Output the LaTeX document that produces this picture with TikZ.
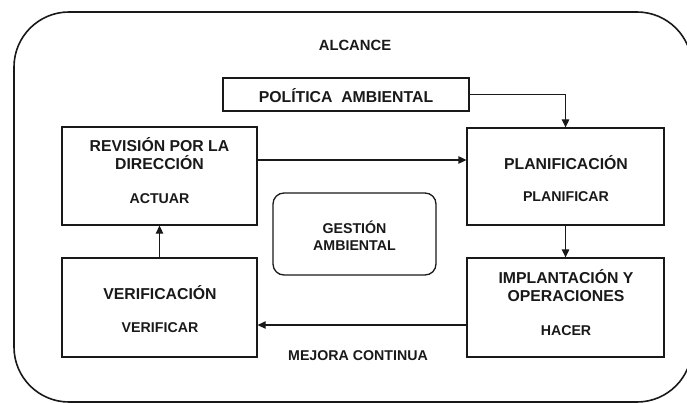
\documentclass[tikz,border=0pt]{standalone}
\usepackage{fontspec}
\setmainfont{Liberation Sans}
\usetikzlibrary{arrows.meta}
\begin{document}
\begin{tikzpicture}[x=1pt,y=-1pt,
  boxst/.style={draw=black!90, line width=1.3pt, inner sep=0pt, minimum width=#1},
  big/.style={font=\bfseries\fontsize{15.8}{18}\selectfont, align=center, text=black!90, inner sep=0pt},
  small/.style={font=\bfseries\fontsize{14.2}{16.5}\selectfont, align=center, text=black!90, inner sep=0pt},
  conn/.style={draw=black!90, line width=1.3pt, -{Triangle[length=8pt,width=7.5pt]}}]
\useasboundingbox (0,0) rectangle (687,403);
\begin{scope}
\clip (0,0) rectangle (687,403);
\draw[line width=1.6pt, black!90, rounded corners=55pt] (14,12) rectangle (692,402);
\end{scope}
% boxes
\node[boxst=246pt, minimum height=33pt] (pol) at (346,94.5) {};
\node[boxst=195pt, minimum height=98pt] (rev) at (159.5,176) {};
\node[boxst=197pt, minimum height=97pt] (plan) at (565.5,176.5) {};
\node[boxst=197pt, minimum height=99pt] (impl) at (565.5,307.5) {};
\node[boxst=195pt, minimum height=99pt] (ver) at (159.5,307.5) {};
\node[boxst=163pt, minimum height=82pt, rounded corners=11pt] (gest) at (354.5,234) {};
% texts
\node[small, font=\bfseries\fontsize{14.8}{16}\selectfont] (alc) at (355,45) {ALCANCE};
\node[big] (polt) at (346,96) {POLÍTICA\ \ AMBIENTAL};
\node[big] (revt) at (159.5,154) {REVISIÓN POR LA\\DIRECCIÓN};
\node[small] (revs) at (159.5,199) {ACTUAR};
\node[big] (plant) at (566,163) {PLANIFICACIÓN};
\node[small] (plans) at (566,197) {PLANIFICAR};
\node[big] (implt) at (566,286) {IMPLANTACIÓN Y\\OPERACIONES};
\node[small] (impls) at (566,331) {HACER};
\node[big] (vert) at (160,293) {VERIFICACIÓN};
\node[small] (vers) at (160,328) {VERIFICAR};
\node[small] (gestt) at (354.5,235.5) {GESTIÓN\\AMBIENTAL};
\node[small] (mej) at (358,356) {MEJORA CONTINUA};
% connectors
\draw[conn] (pol.east) -| (plan.north);
\draw[conn] ([yshift=16pt]rev.east) -- ([yshift=16pt]rev.east -| plan.west);
\draw[conn] (plan.south) -- (impl.north);
\draw[conn] ([yshift=-17.5pt]impl.east -| impl.west) -- ([yshift=-17.5pt]impl.west -| ver.east);
\draw[conn] (ver.north) -- (rev.south);
\end{tikzpicture}
\end{document}
